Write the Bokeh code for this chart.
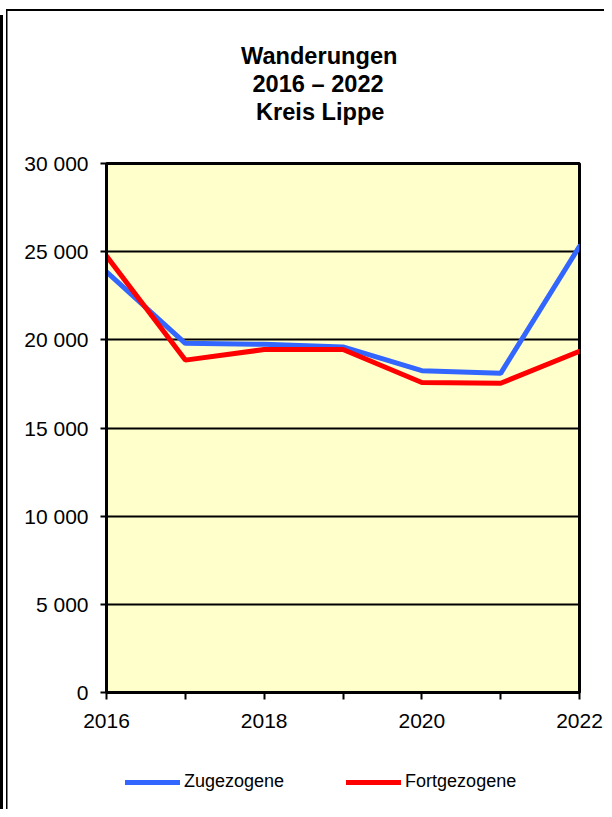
from bokeh.plotting import figure
from bokeh.models import Range1d, FixedTicker, Title, Legend, LegendItem
from bokeh.layouts import column
from bokeh.embed import file_html
from bokeh.resources import INLINE

years = [2016, 2017, 2018, 2019, 2020, 2021, 2022]
zugezogene = [23850, 19800, 19750, 19600, 18250, 18100, 25300]
fortgezogene = [24750, 18850, 19450, 19450, 17580, 17540, 19350]
y_ticks = [0, 5000, 10000, 15000, 20000, 25000, 30000]
y_tick_labels = ["0", "5 000", "10 000", "15 000", "20 000", "25 000", "30 000"]
x_tick_labels = ["2016", "", "2018", "", "2020", "", "2022"]
title_lines = ["Wanderungen", "2016 \u2013 2022", "Kreis Lippe"]
series_names = ["Zugezogene", "Fortgezogene"]
series_colors = ["#3366FF", "#FF0000"]
series_values = [zugezogene, fortgezogene]

FONT = "Liberation Sans"
W = 604
H_MAIN, H_LEG = 760, 49

p = figure(width=W, height=H_MAIN, output_backend="svg", toolbar_location=None,
           x_range=Range1d(years[0], years[-1]), y_range=Range1d(y_ticks[0], y_ticks[-1]),
           min_border_left=106, min_border_right=25, min_border_top=163, min_border_bottom=68)
p.title.visible = False
p.background_fill_color = "#FFFFCC"
p.border_fill_alpha = 0
p.outline_line_color = "black"
p.outline_line_width = 3

p.xgrid.visible = False
p.ygrid.ticker = FixedTicker(ticks=y_ticks)
p.ygrid.grid_line_color = "black"
p.ygrid.grid_line_width = 2

p.yaxis.ticker = FixedTicker(ticks=y_ticks)
p.yaxis.major_label_overrides = dict(zip(y_ticks, y_tick_labels))
p.xaxis.ticker = FixedTicker(ticks=years)
p.xaxis.major_label_overrides = dict(zip(years, x_tick_labels))

for ax in (p.xaxis[0], p.yaxis[0]):
    ax.axis_line_color = "black"
    ax.axis_line_width = 3
    ax.major_tick_line_color = "black"
    ax.major_tick_line_width = 2
    ax.major_tick_in = 0
    ax.minor_tick_line_color = None
    ax.major_label_text_font = FONT
    ax.major_label_text_font_size = "21px"
    ax.major_label_text_color = "black"
p.xaxis.major_tick_out = 7
p.yaxis.major_tick_out = 6
p.yaxis.major_label_standoff = 12
p.xaxis.major_label_standoff = 14

for vals, c in zip(series_values, series_colors):
    p.line(years, vals, line_color=c, line_width=5, line_cap="round")

# title: spacer closest to the frame, then the three lines
p.add_layout(Title(text=" ", standoff=11, text_font=FONT, text_font_size="23.6px"), "above")
title_offsets = [134.5, 146, 149.5]
for t, off in reversed(list(zip(title_lines, title_offsets))):
    p.add_layout(Title(text=t, align="left", offset=off, standoff=0,
                       text_font=FONT, text_font_style="bold", text_font_size="23.6px",
                       text_color="black"), "above")

# legend strip below the chart (series drawn off-view, only their legend glyphs show)
q = figure(width=W, height=H_LEG, output_backend="svg", toolbar_location=None,
           x_axis_type=None, y_axis_type=None, min_border=0,
           x_range=Range1d(0, 1), y_range=Range1d(0, 1))
q.title.visible = False
q.outline_line_color = None
q.background_fill_alpha = 0
q.border_fill_alpha = 0
q.grid.visible = False
proxies = [q.line(years, vals, line_color=c, line_width=5, line_cap="round")
           for vals, c in zip(series_values, series_colors)]
legend = Legend(items=[LegendItem(label=n, renderers=[r]) for n, r in zip(series_names, proxies)],
                orientation="horizontal", location=(19, 17),
                glyph_width=55, glyph_height=20, label_standoff=4, spacing=62,
                padding=0, margin=0, border_line_color=None, background_fill_alpha=0,
                label_text_font=FONT, label_text_font_size="18px", label_text_color="black")
q.add_layout(legend)

layout = column(p, q, spacing=0)
layout.styles = {
    "background-color": "white",
    "background-image": "linear-gradient(black, black), linear-gradient(black, black), linear-gradient(black, black)",
    "background-repeat": "no-repeat",
    "background-position": "0px 15px, 6px 9px, 6px 8.5px",
    "background-size": "3px 100%, 1.5px 100%, 100% 2px",
}

open("out.html", "w").write(file_html(layout, INLINE))
